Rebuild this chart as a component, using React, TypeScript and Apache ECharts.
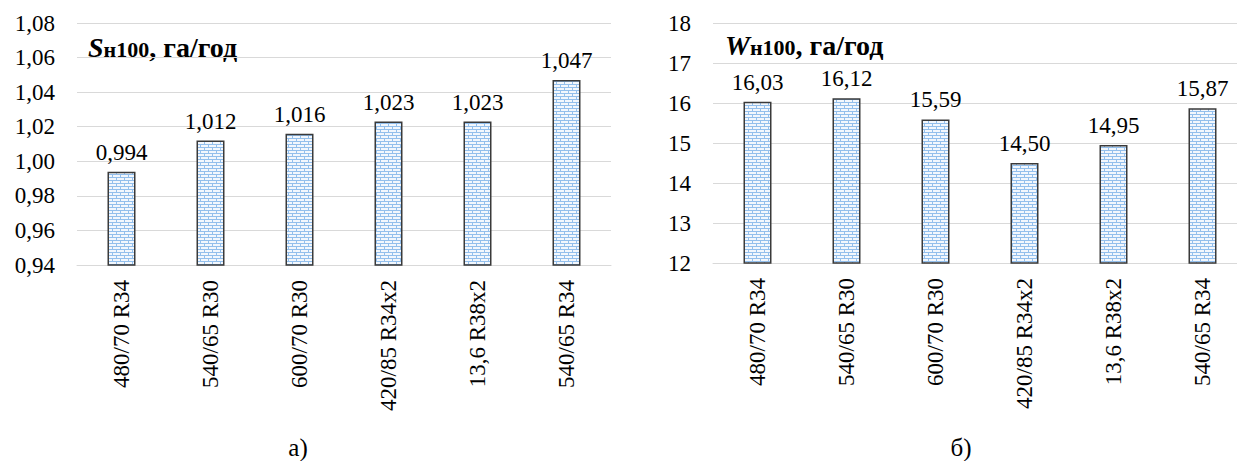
import React, { useEffect, useRef } from "react";
import * as echarts from "echarts";

const categories = ["480/70 R34", "540/65 R30", "600/70 R30", "420/85 R34x2", "13,6 R38x2", "540/65 R34"];
const sValues = [0.994, 1.012, 1.016, 1.023, 1.023, 1.047];
const wValues = [16.03, 16.12, 15.59, 14.5, 14.95, 15.87];
const sAxis = { min: 0.94, max: 1.08, interval: 0.02 };
const wAxis = { min: 12, max: 18, interval: 1 };
const panelLabels = ["а)", "б)"];

const FONT = "Liberation Serif";

const brickSvg =
  "<svg xmlns='http://www.w3.org/2000/svg' width='8' height='6'>" +
  "<rect width='8' height='6' fill='#f2f7fd'/>" +
  "<rect x='0' y='0' width='8' height='1' fill='#93bfec'/>" +
  "<rect x='0' y='3' width='8' height='1' fill='#93bfec'/>" +
  "<rect x='0' y='0' width='1' height='3' fill='#93bfec'/>" +
  "<rect x='4' y='3' width='1' height='3' fill='#93bfec'/>" +
  "</svg>";
const brickUrl = "data:image/svg+xml;charset=utf-8," + encodeURIComponent(brickSvg);

export default function App() {
  const ref = useRef<HTMLDivElement>(null);
  useEffect(() => {
    if (!ref.current) return;
    const chart = echarts.init(ref.current, undefined, { renderer: "svg" });
    const pattern: any = { image: brickUrl, repeat: "repeat" };
    const fmt = (d: number) => (v: number) => v.toFixed(d).replace(".", ",");
    const xAxisBase = (gi: number) => ({
      type: "category",
      gridIndex: gi,
      data: categories,
      axisLine: { show: true, lineStyle: { color: "#d9d9d9", width: 1 } },
      axisTick: { show: false },
      axisLabel: {
        rotate: 90,
        interval: 0,
        margin: 15,
        color: "#000",
        fontFamily: FONT,
        fontSize: 23,
      },
    });
    const yAxisBase = (gi: number, ax: any, d: number) => ({
      type: "value",
      gridIndex: gi,
      min: ax.min,
      max: ax.max,
      interval: ax.interval,
      axisLine: { show: false },
      axisTick: { show: false },
      splitLine: { lineStyle: { color: "#d9d9d9", width: 1 } },
      axisLabel: {
        margin: 22,
        color: "#000",
        fontFamily: FONT,
        fontSize: 23,
        formatter: fmt(d),
      },
    });
    const seriesBase = (gi: number, data: number[], d: number) => ({
      type: "bar",
      xAxisIndex: gi,
      yAxisIndex: gi,
      data,
      barWidth: 28,
      itemStyle: { color: pattern, borderColor: "#3a3a3a", borderWidth: 1.5 },
      label: {
        show: true,
        position: "top",
        distance: 8,
        color: "#000",
        fontFamily: FONT,
        fontSize: 23,
        formatter: (p: any) => fmt(d)(p.value),
      },
    });
    const titleText = (x: number, y: number, letter: string) => ({
      type: "text",
      x,
      y,
      style: {
        text: `{a|${letter}}{b|н100}{c|, га/год}`,
        rich: {
          a: { fontFamily: FONT, fontSize: 28, fontWeight: "bold", fontStyle: "italic", fill: "#000", verticalAlign: "bottom" },
          b: { fontFamily: FONT, fontSize: 22, fontWeight: "bold", fill: "#000", verticalAlign: "bottom", padding: [0, 0, 1, 0] },
          c: { fontFamily: FONT, fontSize: 28, fontWeight: "bold", fill: "#000", verticalAlign: "bottom" },
        },
        verticalAlign: "middle",
      } as any,
    });
    chart.setOption({
      animation: false,
      backgroundColor: "#ffffff",
      grid: [
        { left: 77, top: 23, width: 534, height: 242 },
        { left: 713, top: 23, width: 534, height: 240 },
      ],
      xAxis: [xAxisBase(0), xAxisBase(1)],
      yAxis: [yAxisBase(0, sAxis, 2), yAxisBase(1, wAxis, 0)],
      series: [seriesBase(0, sValues, 3), seriesBase(1, wValues, 2)],
      graphic: [
        titleText(88, 47, "S"),
        titleText(725, 45, "W"),
        {
          type: "text",
          x: 298,
          y: 447,
          style: { text: panelLabels[0], fontFamily: FONT, fontSize: 25, fill: "#000", align: "center", verticalAlign: "middle" },
        },
        {
          type: "text",
          x: 961,
          y: 447,
          style: { text: panelLabels[1], fontFamily: FONT, fontSize: 25, fill: "#000", align: "center", verticalAlign: "middle" },
        },
      ],
    });
    return () => chart.dispose();
  }, []);
  return (
    <div style={{ position: "fixed", left: 0, top: 0, width: 1237, height: 461, overflow: "hidden", background: "#fff" }}>
      <div ref={ref} style={{ width: 1260, height: 461 }} />
    </div>
  );
}
